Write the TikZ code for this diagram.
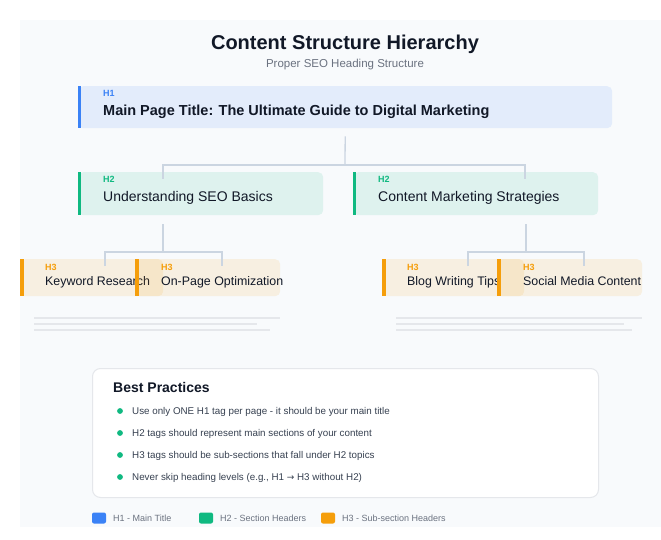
\documentclass[tikz,border=0pt]{standalone}
\usepackage{fontspec}
\setmainfont{Liberation Sans}
\newfontfamily\dejavu{DejaVu Sans}
\definecolor{blueH}{HTML}{3B82F6}
\definecolor{greenH}{HTML}{10B981}
\definecolor{orangeH}{HTML}{F59E0B}
\definecolor{panel}{HTML}{F8FAFC}
\definecolor{connc}{HTML}{CBD5E1}
\definecolor{ink}{HTML}{111827}
\definecolor{subc}{HTML}{6B7280}
\definecolor{linegray}{HTML}{E5E7EB}
\definecolor{bodyc}{HTML}{374151}
\newcommand\fs[1]{\fontsize{#1}{#1}\selectfont}
\begin{document}
\begin{tikzpicture}[x=1pt,y=-1pt,
  hbox/.style={rectangle, rounded corners=5pt, inner sep=0pt, anchor=north west, fill opacity=0.11},
  tagtxt/.style={anchor=base west, inner sep=0pt, font=\bfseries\fs{9}},
  h1txt/.style={anchor=base west, inner sep=0pt, text=ink, font=\bfseries\fs{14.5}},
  h2txt/.style={anchor=base west, inner sep=0pt, text=ink, font=\fs{14}},
  h3txt/.style={anchor=base west, inner sep=0pt, text=ink, font=\fs{12.4}},
  connline/.style={draw=connc, line width=1.3pt},
  ghost/.style={draw=linegray, line width=2pt},
  bullet/.style={circle, fill=greenH, inner sep=0pt, minimum size=5.8pt},
  bptxt/.style={anchor=base west, inner sep=0pt, text=bodyc, font=\fs{9.8}},
  legsq/.style={rectangle, rounded corners=2pt, inner sep=0pt, minimum width=14pt, minimum height=11pt},
  legtxt/.style={anchor=base west, inner sep=0pt, text=subc, font=\fs{9}}
]
\useasboundingbox (0,0) rectangle (661,540);
\fill[panel] (20,20) rectangle (661,527);

\node[anchor=base, inner sep=0pt, text=ink, font=\bfseries\fs{20}] (title) at (345,50) {Content Structure Hierarchy};
\node[anchor=base, inner sep=0pt, text=subc, font=\fs{11.5}] (subtitle) at (345,67.5) {Proper SEO Heading Structure};

% H1
\node[hbox, fill=blueH, minimum width=534pt, minimum height=42pt] (h1) at (78,86) {};
\fill[blueH] (h1.north west) rectangle ([xshift=3pt]h1.south west);
\node[tagtxt, text=blueH] (h1tag) at (103,97) {H1};
\node[h1txt] (h1t) at (103,116) {Main Page Title: The Ultimate Guide to Digital Marketing};

% H2 boxes
\node[hbox, fill=greenH, minimum width=245pt, minimum height=43pt] (h2a) at (78,172) {};
\fill[greenH] (h2a.north west) rectangle ([xshift=3pt]h2a.south west);
\node[tagtxt, text=greenH] (h2atag) at (103,182.5) {H2};
\node[h2txt] (h2at) at (103,202) {Understanding SEO Basics};

\node[hbox, fill=greenH, minimum width=245pt, minimum height=43pt] (h2b) at (353,172) {};
\fill[greenH] (h2b.north west) rectangle ([xshift=3pt]h2b.south west);
\node[tagtxt, text=greenH] (h2btag) at (378,182.5) {H2};
\node[h2txt] (h2bt) at (378,202) {Content Marketing Strategies};

% H3 boxes
\node[hbox, fill=orangeH, minimum width=143pt, minimum height=37pt] (h3a) at (20,259) {};
\fill[orangeH] (h3a.north west) rectangle ([xshift=3.5pt]h3a.south west);
\node[tagtxt, text=orangeH] (h3atag) at (45,270) {H3};
\node[h3txt] (h3at) at (45,285) {Keyword Research};

\node[hbox, fill=orangeH, minimum width=145pt, minimum height=37pt] (h3b) at (135,259) {};
\fill[orangeH] (h3b.north west) rectangle ([xshift=3.5pt]h3b.south west);
\node[tagtxt, text=orangeH] (h3btag) at (161,270) {H3};
\node[h3txt] (h3bt) at (161,285) {On-Page Optimization};

\node[hbox, fill=orangeH, minimum width=142pt, minimum height=37pt] (h3c) at (382,259) {};
\fill[orangeH] (h3c.north west) rectangle ([xshift=3.5pt]h3c.south west);
\node[tagtxt, text=orangeH] (h3ctag) at (407,270) {H3};
\node[h3txt] (h3ct) at (407,285) {Blog Writing Tips};

\node[hbox, fill=orangeH, minimum width=145pt, minimum height=37pt] (h3d) at (497,259) {};
\fill[orangeH] (h3d.north west) rectangle ([xshift=3.5pt]h3d.south west);
\node[tagtxt, text=orangeH] (h3dtag) at (523,270) {H3};
\node[h3txt] (h3dt) at (523,285) {Social Media Content};

% connectors
\coordinate (j1) at (345,165);
\coordinate (d2a) at (163,179);
\coordinate (d2b) at (525,179);
\draw[connline] ([yshift=-8pt]h1.south) -- (j1);
\draw[connline] (d2a) |- (j1) -| (d2b);

\coordinate (ja) at (163,252);
\coordinate (d3a) at (105,266);
\coordinate (d3b) at (222,266);
\draw[connline] (163,224) -- (ja);
\draw[connline] (d3a) |- (ja) -| (d3b);

\coordinate (jb) at (526,252);
\coordinate (d3c) at (468,266);
\coordinate (d3d) at (584,266);
\draw[connline] (526,224) -- (jb);
\draw[connline] (d3c) |- (jb) -| (d3d);

% ghost text lines
\draw[ghost] (34,318) -- (280,318);
\draw[ghost] (34,324) -- (257,324);
\draw[ghost] (34,330) -- (270,330);
\draw[ghost] (396,318) -- (642,318);
\draw[ghost] (396,324) -- (624,324);
\draw[ghost] (396,330) -- (632,330);

% best practices
\node[rectangle, rounded corners=8pt, draw=linegray, line width=1pt, fill=white, anchor=north west, minimum width=506pt, minimum height=129pt] (bp) at (92,368) {};
\node[anchor=base west, inner sep=0pt, text=ink, font=\bfseries\fs{14}] (bpt) at (113,392.3) {Best Practices};
\node[bullet] (b1) at (120,411) {};
\node[bptxt] (b1t) at (132,414.5) {Use only ONE H1 tag per page - it should be your main title};
\node[bullet] (b2) at (120,433) {};
\node[bptxt] (b2t) at (132,436.5) {H2 tags should represent main sections of your content};
\node[bullet] (b3) at (120,455) {};
\node[bptxt] (b3t) at (132,458.5) {H3 tags should be sub-sections that fall under H2 topics};
\node[bullet] (b4) at (120,477) {};
\node[bptxt] (b4t) at (132,480.5) {Never skip heading levels (e.g., H1 {\dejavu\fs{9}→} H3 without H2)};

% legend
\node[legsq, fill=blueH] (l1) at (99,518) {};
\node[legtxt] (l1t) at (113,521.3) {H1 - Main Title};
\node[legsq, fill=greenH] (l2) at (206,518) {};
\node[legtxt] (l2t) at (220,521.3) {H2 - Section Headers};
\node[legsq, fill=orangeH] (l3) at (328,518) {};
\node[legtxt] (l3t) at (342,521.3) {H3 - Sub-section Headers};
\end{tikzpicture}
\end{document}
